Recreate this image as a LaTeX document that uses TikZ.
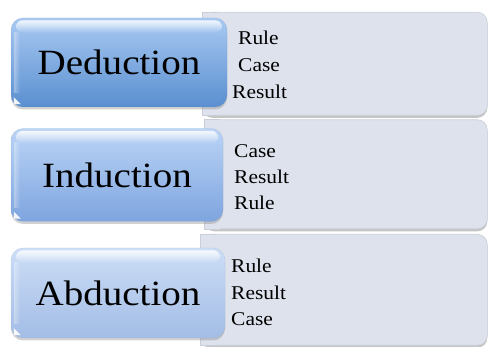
\documentclass[tikz,border=0pt]{standalone}
\usepackage{fontspec}
\setmainfont[FakeStretch=1.1]{Liberation Serif}
\usetikzlibrary{shadows,fadings}
\definecolor{boxfill}{HTML}{DDE2EC}
\definecolor{boxline}{HTML}{C9CED8}
\definecolor{dedtop}{HTML}{A9C9F2}
\definecolor{dedbot}{HTML}{5A8FD0}
\definecolor{indtop}{HTML}{BBD4F6}
\definecolor{indbot}{HTML}{7EA5DF}
\definecolor{abdtop}{HTML}{CCDDF6}
\definecolor{abdbot}{HTML}{A3BDE6}
\tikzset{
  panel/.style={fill=boxfill, draw=boxline, line width=0.6pt, rounded corners=10pt,
    anchor=north west, inner sep=0pt,
    drop shadow={shadow xshift=0pt, shadow yshift=-2.5pt, opacity=0.45, fill=gray}},
  item/.style={anchor=base west, inner sep=0pt, font=\fontsize{19.5}{22}\selectfont},
  btn/.style={rounded corners=12pt, inner sep=0pt, draw=#1bot!80!black, draw opacity=0.25,
    top color=#1top, bottom color=#1bot,
    drop shadow={shadow xshift=0pt, shadow yshift=-2.5pt, opacity=0.35, fill=gray}},
  btntext/.style={inner sep=0pt, font=\fontsize{35.5}{40}\selectfont},
}
\newcommand{\squareleft}[1]{%
  \fill[boxfill] ([xshift=0.3pt,yshift=-0.3pt]#1.north west) rectangle ([xshift=16pt,yshift=0.3pt]#1.south west);
  \draw[boxline, line width=0.6pt] ([xshift=16pt]#1.north west) -- (#1.north west) -- (#1.south west) -- ([xshift=16pt]#1.south west);
}
\newcommand{\gloss}[1]{%
  \fill[white, path fading=south, opacity=0.85, rounded corners=7pt]
    ([xshift=5pt,yshift=-2.5pt]#1.north west) rectangle ([xshift=-5pt,yshift=-15pt]#1.north east);
  \fill[white, path fading=east, opacity=0.35]
    ([xshift=3pt,yshift=-14pt]#1.north west) rectangle ([xshift=9pt,yshift=14pt]#1.south west);
  \fill[white, opacity=0.9] ([xshift=3pt,yshift=3pt]#1.south west) -- ++(7pt,0) -- ++(-7pt,7pt) -- cycle;
}
\begin{document}
\begin{tikzpicture}[x=1pt,y=-1pt]
\useasboundingbox (0,0) rectangle (488,347);
\fill[white] (0,0) rectangle (488,347);

% right panels
\node[panel, minimum width=285pt, minimum height=103pt] (p1) at (202,12) {};
\squareleft{p1}
\node[panel, minimum width=283pt, minimum height=109pt] (p2) at (204,119.5) {};
\squareleft{p2}
\node[panel, minimum width=287pt, minimum height=111pt] (p3) at (200,234) {};
\squareleft{p3}

% panel texts
\node[item] (d1) at (238,45) {Rule};
\node[item] (d2) at (238,72) {Case};
\node[item] (d3) at (232,98.5) {Result};

\node[item] (i1) at (234,158) {Case};
\node[item] (i2) at (234,184) {Result};
\node[item] (i3) at (234,210) {Rule};

\node[item] (a1) at (231,273) {Rule};
\node[item] (a2) at (231,300) {Result};
\node[item] (a3) at (231,326) {Case};

% buttons
\node[btn=ded, minimum width=216pt, minimum height=89pt] (ded) at (119,62.5) {};
\gloss{ded}
\node[btntext] (dedt) at (ded.center) {Deduction};

\node[btn=ind, minimum width=212pt, minimum height=93pt] (ind) at (117,175) {};
\gloss{ind}
\node[btntext] (indt) at (ind.center) {Induction};

\node[btn=abd, minimum width=214pt, minimum height=90pt] (abd) at (118,293) {};
\gloss{abd}
\node[btntext] (abdt) at (abd.center) {Abduction};
\end{tikzpicture}
\end{document}
